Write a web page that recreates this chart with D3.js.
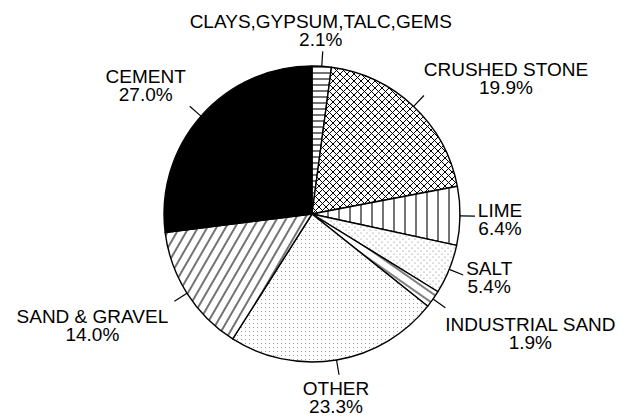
<!DOCTYPE html>
<html>
<head>
<meta charset="utf-8">
<script src="https://cdn.jsdelivr.net/npm/d3@7"></script>
<style>
  html, body { margin: 0; padding: 0; background: #fff; }
  svg { display: block; }
</style>
</head>
<body>
<svg id="chart" width="626" height="416"></svg>
<script>
// data, clockwise from 12 o'clock
const categories = ["CLAYS,GYPSUM,TALC,GEMS", "CRUSHED STONE", "LIME", "SALT",
  "INDUSTRIAL SAND", "OTHER", "SAND & GRAVEL", "CEMENT"]
const shares = [2.1, 19.9, 6.4, 5.4, 1.9, 23.3, 14.0, 27.0]

const svg = d3.select("#chart")
const cx = 312, cy = 214
const radius = 148
const tickLen = 15

// label placement, relative to the end of each leader tick
const labelOffset = {
  "CLAYS,GYPSUM,TALC,GEMS": [-2, -23],
  "CRUSHED STONE": [82, -20],
  "LIME": [25, 1],
  "SALT": [26, 0],
  "INDUSTRIAL SAND": [85, 23],
  "OTHER": [-3, 20],
  "SAND & GRAVEL": [-82, 22],
  "CEMENT": [-44, -23],
}

// fill patterns
const defs = svg.append("defs")
const addPattern = (id, w, h, transform, draw) => {
  const p = defs.append("pattern")
    .attr("id", id)
    .attr("patternUnits", "userSpaceOnUse")
    .attr("width", w)
    .attr("height", h)
  if (transform) p.attr("patternTransform", transform)
  p.append("rect").attr("width", w).attr("height", h).attr("fill", "#fff")
  draw(p)
}

addPattern("p-clays", 10, 6, null, (p) =>
  p.append("path").attr("d", "M0,3H10").attr("stroke", "#000").attr("stroke-width", 1.1))
addPattern("p-crushed", 7, 7, null, (p) =>
  p.append("path").attr("d", "M0,0L7,7M7,0L0,7").attr("stroke", "#000").attr("stroke-width", 1))
addPattern("p-lime", 11, 10, null, (p) =>
  p.append("path").attr("d", "M5,0V10").attr("stroke", "#000").attr("stroke-width", 1.1))
addPattern("p-salt", 6, 6, null, (p) => {
  p.append("circle").attr("cx", 1).attr("cy", 1).attr("r", 0.6).attr("fill", "#777")
  p.append("circle").attr("cx", 4).attr("cy", 4).attr("r", 0.6).attr("fill", "#777")
})
addPattern("p-indsand", 10, 8, "rotate(35)", (p) =>
  p.append("path").attr("d", "M0,4H10").attr("stroke", "#000").attr("stroke-width", 1))
addPattern("p-other", 4, 4, null, (p) =>
  p.append("rect").attr("x", 1).attr("y", 1).attr("width", 1).attr("height", 1).attr("fill", "#999"))
addPattern("p-sand", 8, 10, "rotate(30)", (p) =>
  p.append("path").attr("d", "M4,0V10").attr("stroke", "#000").attr("stroke-width", 1.1))

const fills = d3.scaleOrdinal()
  .domain(categories)
  .range(["url(#p-clays)", "url(#p-crushed)", "url(#p-lime)", "url(#p-salt)",
    "url(#p-indsand)", "url(#p-other)", "url(#p-sand)", "#000"])

const pie = d3.pie().sort(null).value((d) => d.value).startAngle(0).endAngle(2 * Math.PI)
const arcs = pie(categories.map((name, i) => ({ name, value: shares[i] })))

const arc = d3.arc().innerRadius(0).outerRadius(radius)
const edgeArc = d3.arc().innerRadius(radius).outerRadius(radius)
const tickArc = d3.arc().innerRadius(radius + tickLen).outerRadius(radius + tickLen)

const g = svg.append("g").attr("transform", `translate(${cx},${cy})`)

g.selectAll("path.slice")
  .data(arcs)
  .join("path")
  .attr("class", "slice")
  .attr("d", arc)
  .attr("fill", (d) => fills(d.data.name))
  .attr("stroke", "#000")
  .attr("stroke-width", 1.4)
  .attr("stroke-linejoin", "round")

// leader ticks
g.selectAll("line.tick")
  .data(arcs)
  .join("line")
  .attr("class", "tick")
  .attr("x1", (d) => edgeArc.centroid(d)[0])
  .attr("y1", (d) => edgeArc.centroid(d)[1])
  .attr("x2", (d) => tickArc.centroid(d)[0])
  .attr("y2", (d) => tickArc.centroid(d)[1])
  .attr("stroke", "#000")
  .attr("stroke-width", 1.2)

// labels
const fmt = d3.format(".1f")
const labels = g.selectAll("text.label")
  .data(arcs)
  .join("text")
  .attr("class", "label")
  .attr("font-family", "'Liberation Sans', Arial, Helvetica, sans-serif")
  .attr("font-size", "19px")
  .attr("fill", "#000")
  .attr("text-anchor", "middle")
  .attr("transform", (d) => {
    const [x, y] = tickArc.centroid(d)
    const [dx, dy] = labelOffset[d.data.name]
    return `translate(${x + dx},${y + dy})`
  })

labels.append("tspan").attr("x", 0).attr("y", 0).text((d) => d.data.name)
labels.append("tspan").attr("x", 0).attr("y", 18).text((d) => fmt(d.data.value) + "%")
</script>
</body>
</html>
